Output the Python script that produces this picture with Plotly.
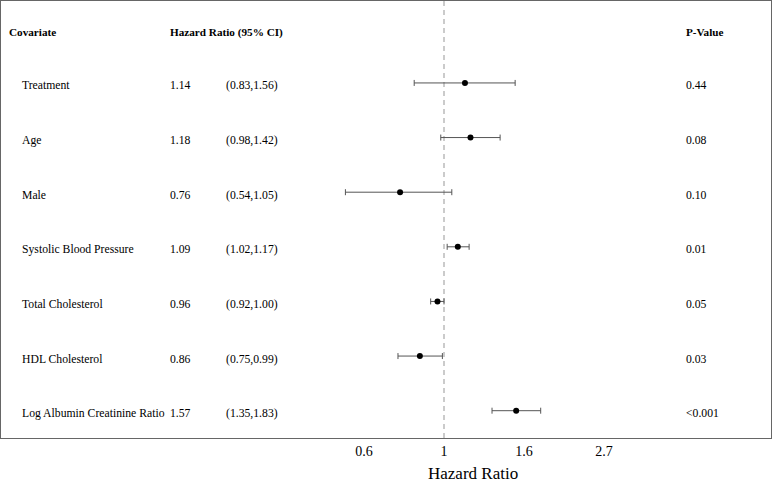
import math
import plotly.graph_objects as go

covariates = ["Treatment", "Age", "Male", "Systolic Blood Pressure",
              "Total Cholesterol", "HDL Cholesterol", "Log Albumin Creatinine Ratio"]
hr = [1.14, 1.18, 0.76, 1.09, 0.96, 0.86, 1.57]
ci_low = [0.83, 0.98, 0.54, 1.02, 0.92, 0.75, 1.35]
ci_high = [1.56, 1.42, 1.05, 1.17, 1.00, 0.99, 1.83]
hr_text = ["1.14", "1.18", "0.76", "1.09", "0.96", "0.86", "1.57"]
ci_text = ["(0.83,1.56)", "(0.98,1.42)", "(0.54,1.05)", "(1.02,1.17)",
           "(0.92,1.00)", "(0.75,0.99)", "(1.35,1.83)"]
p_text = ["0.44", "0.08", "0.10", "0.01", "0.05", "0.03", "<0.001"]
tick_vals = [math.exp(-0.5), 1.0, math.exp(0.5), math.exp(1.0)]
tick_text = ["0.6", "1", "1.6", "2.7"]

rows = list(range(1, len(covariates) + 1))
FONT = "Liberation Serif, Times New Roman, serif"

fig = go.Figure()
fig.add_trace(go.Scatter(
    x=hr, y=rows, mode="markers",
    marker=dict(color="black", size=6),
    error_x=dict(type="data", symmetric=False,
                 array=[h - m for h, m in zip(ci_high, hr)],
                 arrayminus=[m - l for m, l in zip(hr, ci_low)],
                 color="#555555", thickness=1, width=3),
    showlegend=False, hoverinfo="skip"))

# reference line at 1
fig.add_shape(type="line", xref="x", yref="paper", x0=1, x1=1, y0=0, y1=1,
              line=dict(color="#b0b0b0", width=1.3, dash="5px,4px"), layer="below")

W0, W1 = 1, 771
def px(xp):
    return (xp - W0) / (W1 - W0)

anns = []
def add(text, x, y, bold=False, size=11.7, yshift=-3):
    anns.append(dict(text=("<b>%s</b>" % text) if bold else text,
                     x=px(x), xref="paper", y=y, yref="y",
                     xanchor="left", yanchor="middle", yshift=yshift,
                     showarrow=False, font=dict(family=FONT, size=size, color="black")))

add("Covariate", 7, 0, bold=True, size=11.2, yshift=-4)
add("Hazard Ratio (95% CI)", 168, 0, bold=True, size=11.2, yshift=-4)
add("P-Value", 684, 0, bold=True, size=11.2, yshift=-4)
for i, r in enumerate(rows):
    add(covariates[i], 20, r)
    add(hr_text[i], 168, r)
    add(ci_text[i], 224, r)
    add(p_text[i], 684, r)

anns.append(dict(text="Hazard Ratio", x=px(473), xref="paper", y=-0.082, yref="paper",
                 xanchor="center", yanchor="middle", showarrow=False,
                 font=dict(family=FONT, size=17, color="black")))

ln_left = -443 / 160.0
ln_right = 327 / 160.0

fig.update_layout(
    width=774, height=482,
    margin=dict(l=1, r=3, t=1, b=44),
    paper_bgcolor="white", plot_bgcolor="white",
    annotations=anns,
    xaxis=dict(type="log", range=[ln_left / math.log(10), ln_right / math.log(10)],
               tickvals=tick_vals, ticktext=tick_text, ticks="",
               showgrid=False, zeroline=False,
               showline=True, mirror=True, linecolor="#666666", linewidth=1,
               tickfont=dict(family=FONT, size=14, color="black")),
    yaxis=dict(range=[7.5, -0.5], showticklabels=False, ticks="",
               showgrid=False, zeroline=False,
               showline=True, mirror=True, linecolor="#666666", linewidth=1),
)

fig.write_html("out.html", config={"displayModeBar": False},
               post_script="document.body.style.margin='0';")
